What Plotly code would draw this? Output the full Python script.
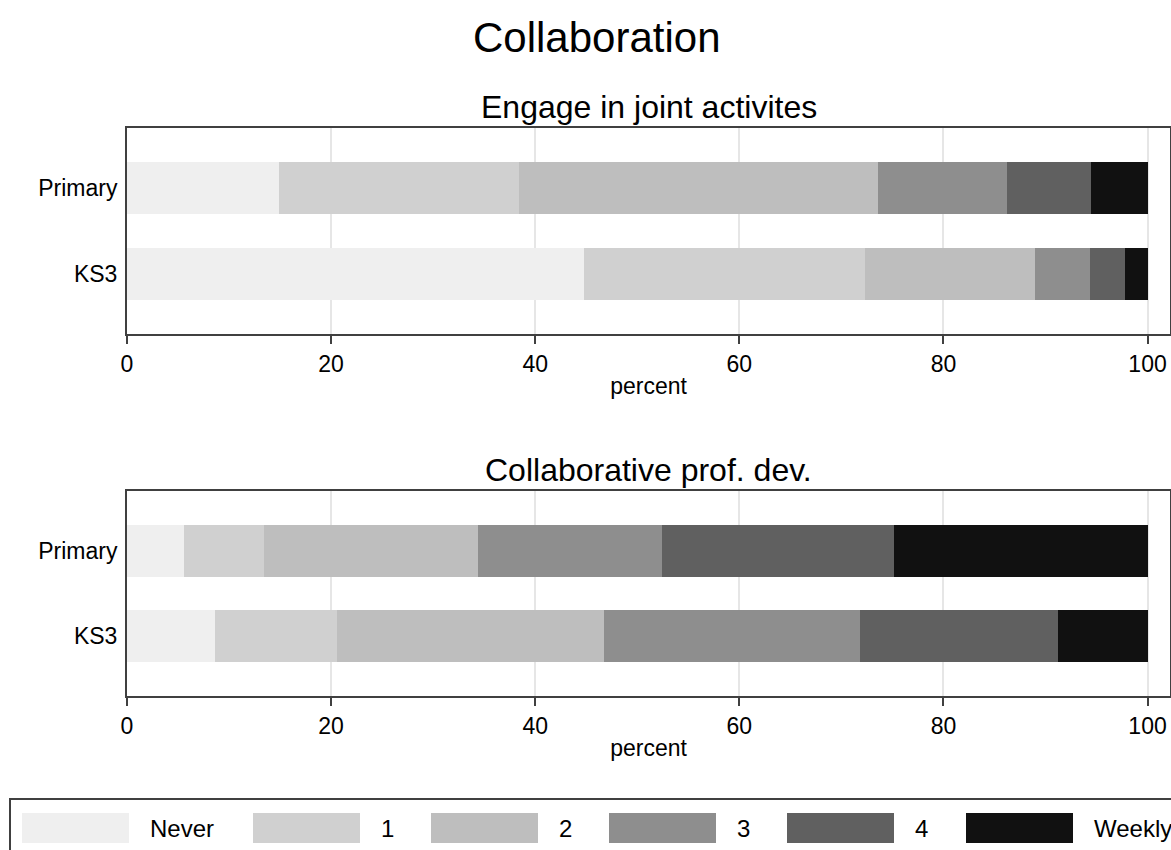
import plotly.graph_objects as go
from plotly.subplots import make_subplots

# Data (percent of respondents per frequency)
groups = ['Primary', 'KS3']
levels = ['Never', '1', '2', '3', '4', 'Weekly']
colors = ['#efefef', '#d0d0d0', '#bebebe', '#8e8e8e', '#606060', '#111111']

joint_primary = [14.9, 23.5, 35.2, 12.6, 8.3, 5.5]
joint_ks3 = [44.8, 27.5, 16.7, 5.4, 3.4, 2.2]
profdev_primary = [5.6, 7.8, 21.0, 18.0, 22.8, 24.8]
profdev_ks3 = [8.6, 12.0, 26.1, 25.1, 19.4, 8.8]

panel_titles = ['Engage in joint activites', 'Collaborative prof. dev.']
panels = [(joint_primary, joint_ks3), (profdev_primary, profdev_ks3)]

W, H = 1171, 850
FONT = 'Liberation Sans, Arial, sans-serif'

fig = make_subplots(rows=2, cols=1)

for r, (prim, ks3) in enumerate(panels, start=1):
    for i, lvl in enumerate(levels):
        fig.add_trace(
            go.Bar(y=groups, x=[prim[i], ks3[i]], name=lvl, orientation='h',
                   marker=dict(color=colors[i], line=dict(width=0)),
                   width=0.605, showlegend=False),
            row=r, col=1,
        )

fig.update_layout(barmode='stack', template='none', width=W, height=H,
                  margin=dict(l=0, r=0, t=0, b=0),
                  paper_bgcolor='white', plot_bgcolor='white',
                  font=dict(family=FONT, size=23, color='#000000'))

# panel positions in pixels (top, bottom)
panel_px = [(128, 334), (491, 696)]
x0_px, x1_px = 127, 1170

for r, (top, bot) in enumerate(panel_px, start=1):
    xa = 'xaxis' if r == 1 else 'xaxis%d' % r
    ya = 'yaxis' if r == 1 else 'yaxis%d' % r
    fig.layout[xa].update(
        domain=[x0_px / W, x1_px / W], range=[0, 102.2],
        tickvals=[0, 20, 40, 60, 80, 100], ticks='outside', ticklen=8,
        tickwidth=2, tickcolor='#404040', showline=True, linecolor='#404040',
        linewidth=2, mirror=True, showgrid=True, gridcolor='#e6e6e6',
        gridwidth=1.5, zeroline=False, automargin=False,
        tickfont=dict(size=23), title=dict(text='percent', standoff=2, font=dict(size=23)),
    )
    fig.layout[ya].update(
        domain=[(H - bot) / H, (H - top) / H],
        categoryorder='array', categoryarray=groups, range=[1.698, -0.698],
        ticks='', showline=True, linecolor='#404040', linewidth=2, mirror=True,
        showgrid=False, zeroline=False, automargin=False, ticklabelstandoff=3,
        tickfont=dict(size=23),
    )
    fig.add_annotation(text=panel_titles[r - 1], x=0.5 * (x0_px + x1_px) / W,
                       y=(H - top + 21) / H, xref='paper', yref='paper',
                       showarrow=False, font=dict(size=32), yanchor='middle')

fig.add_annotation(text='Collaboration', x=597 / W, y=(H - 37) / H,
                   xref='paper', yref='paper', showarrow=False,
                   font=dict(size=42), yanchor='middle')

# legend drawn as a Stata-style box along the bottom
fig.add_shape(type='rect', xref='paper', yref='paper',
              x0=10 / W, x1=1190 / W, y0=-20 / H, y1=(H - 799) / H,
              line=dict(color='#404040', width=2), fillcolor='rgba(0,0,0,0)')
swatch_left = [22, 253, 431, 609, 787, 966]
for i, lvl in enumerate(levels):
    sx = swatch_left[i]
    fig.add_shape(type='rect', xref='paper', yref='paper',
                  x0=sx / W, x1=(sx + 107) / W, y0=(H - 843) / H, y1=(H - 813) / H,
                  line=dict(width=0), fillcolor=colors[i])
    fig.add_annotation(text=lvl, x=(sx + 126) / W, y=(H - 828) / H,
                       xref='paper', yref='paper', showarrow=False,
                       xanchor='left', yanchor='middle', font=dict(size=24))

fig.write_html('out.html', config={'displayModeBar': False},
               post_script="document.body.style.margin='0';document.body.style.overflow='hidden';")
